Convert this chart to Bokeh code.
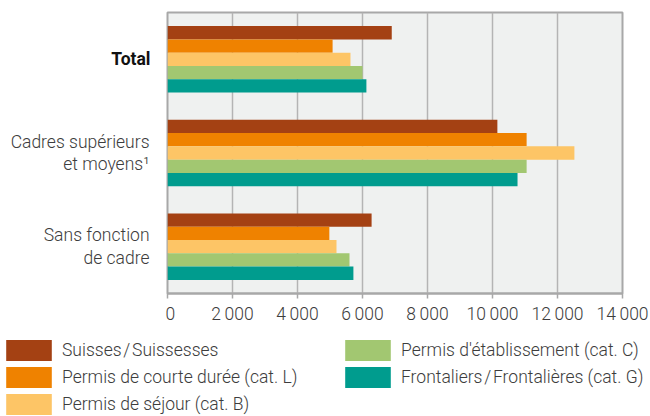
from bokeh.plotting import figure
from bokeh.layouts import column, row
from bokeh.models import ColumnDataSource, FactorRange, FixedTicker, Legend, LegendItem, Range1d
from bokeh.core.properties import value
from bokeh.transform import dodge
from bokeh.embed import file_html
from bokeh.resources import INLINE

# ---- data ----
categories = ["Total", "Cadres supérieurs\net moyens\u00b9", "Sans fonction\nde cadre"]
series_names = [
    "Suisses\u200a/\u200aSuissesses",
    "Permis de courte durée (cat.\u00a0L)",
    "Permis de séjour (cat.\u00a0B)",
    "Permis d'établissement (cat.\u00a0C)",
    "Frontaliers\u200a/\u200aFrontalières (cat.\u00a0G)",
]
suisses = [6900, 10150, 6280]
courte = [5080, 11050, 4980]
sejour = [5630, 12520, 5200]
etabl = [6000, 11050, 5600]
frontaliers = [6120, 10770, 5720]
x_ticks = [0, 2000, 4000, 6000, 8000, 10000, 12000, 14000]
x_tick_labels = ["0", "2\u2009000", "4\u2009000", "6\u2009000", "8\u2009000",
                 "10\u2009000", "12\u2009000", "14\u2009000"]

# ---- style ----
colors = ["#a44113", "#ef8200", "#fdc566", "#a2c771", "#009c8e"]
FONT = "'Roboto Light', Roboto, sans-serif"
FSIZE = "17.5px"
TXT = "#3d3d3d"
GRAY = "#a8a8a8"

cols = ["s0", "s1", "s2", "s3", "s4"]
source = ColumnDataSource(dict(cat=categories, s0=suisses, s1=courte, s2=sejour,
                               s3=etabl, s4=frontaliers))
factors = list(reversed(categories))
y_range = FactorRange(factors=factors, range_padding=0)

# ---- main chart ----
p = figure(width=485, height=330, y_range=y_range, x_range=Range1d(0, 14000),
           output_backend="svg", toolbar_location=None, y_axis_location=None,
           min_border_left=2, min_border_right=28, min_border_top=12, min_border_bottom=37)
p.background_fill_color = "#eff1f0"
p.border_fill_color = "white"
p.outline_line_color = GRAY
p.outline_line_width = 2

bar_h = 0.142
offsets = [2 * bar_h, bar_h, 0, -bar_h, -2 * bar_h]
for i in range(5):
    p.hbar(y=dodge("cat", offsets[i], range=y_range), right=cols[i], left=0,
           height=bar_h, color=colors[i], line_color=None, source=source)

p.ygrid.grid_line_color = None
p.xgrid.ticker = FixedTicker(ticks=x_ticks)
p.xgrid.grid_line_color = "#b4b4b4"
p.xgrid.grid_line_width = 1.5

ax = p.xaxis[0]
ax.ticker = FixedTicker(ticks=x_ticks)
ax.major_label_overrides = {t: l for t, l in zip(x_ticks, x_tick_labels)}
ax.axis_line_color = GRAY
ax.axis_line_width = 2
ax.major_tick_line_color = GRAY
ax.major_tick_line_width = 1.5
ax.major_tick_out = 5
ax.major_tick_in = 0
ax.minor_tick_line_color = None
ax.major_label_text_font = FONT
ax.major_label_text_font_size = FSIZE
ax.major_label_text_color = TXT
ax.major_label_standoff = 5

# ---- category labels (left strip sharing the y scale) ----
pl = figure(width=165, height=330, y_range=y_range, x_range=Range1d(0, 1),
            output_backend="svg", toolbar_location=None,
            x_axis_location=None, y_axis_location=None,
            min_border_left=0, min_border_right=0, min_border_top=12, min_border_bottom=37)
pl.outline_line_color = None
pl.background_fill_color = None
pl.border_fill_color = None
pl.grid.visible = False
pl.text(x=[1], y=[categories[0]], text=[categories[0]], x_offset=-15,
        text_align="right", text_baseline="middle",
        text_font=value("Roboto, sans-serif"), text_font_style="bold",
        text_font_size=FSIZE, text_color="#111111")
pl.text(x=[1] * (len(categories) - 1), y=categories[1:], text=categories[1:], x_offset=-16,
        text_align="right", text_baseline="middle", text_line_height=1.12,
        text_font=value(FONT), text_font_size=FSIZE, text_color=TXT)

# ---- legend strip ----
pg = figure(width=650, height=86, x_range=Range1d(0, 14000),
            y_range=FactorRange(factors=factors, range_padding=0),
            output_backend="svg", toolbar_location=None,
            x_axis_location=None, y_axis_location=None,
            min_border_left=0, min_border_right=0, min_border_top=0, min_border_bottom=0)
pg.outline_line_color = None
pg.background_fill_color = None
pg.border_fill_color = None
pg.grid.visible = False
swatches = []
for i in range(5):
    r = pg.hbar(y="cat", right=cols[i], left=0, height=0.5, color=colors[i],
                line_color=None, source=source)
    r.visible = False
    swatches.append(r)

def make_legend(idx, loc):
    items = [LegendItem(label=series_names[i], renderers=[swatches[i]]) for i in idx]
    return Legend(items=items, location=loc, orientation="vertical",
                  glyph_width=57, glyph_height=26, label_height=26, spacing=1,
                  label_standoff=5, padding=0, margin=0,
                  border_line_color=None, background_fill_alpha=0,
                  inactive_fill_alpha=0, click_policy="none",
                  label_text_font=FONT, label_text_font_size=FSIZE, label_text_color=TXT)

pg.add_layout(make_legend([0, 1, 2], (0, -1)))
pg.add_layout(make_legend([3, 4], (339, 26)))

layout = column(row(pl, p, spacing=0), pg, spacing=0)
open("out.html", "w").write(file_html(layout, INLINE))
